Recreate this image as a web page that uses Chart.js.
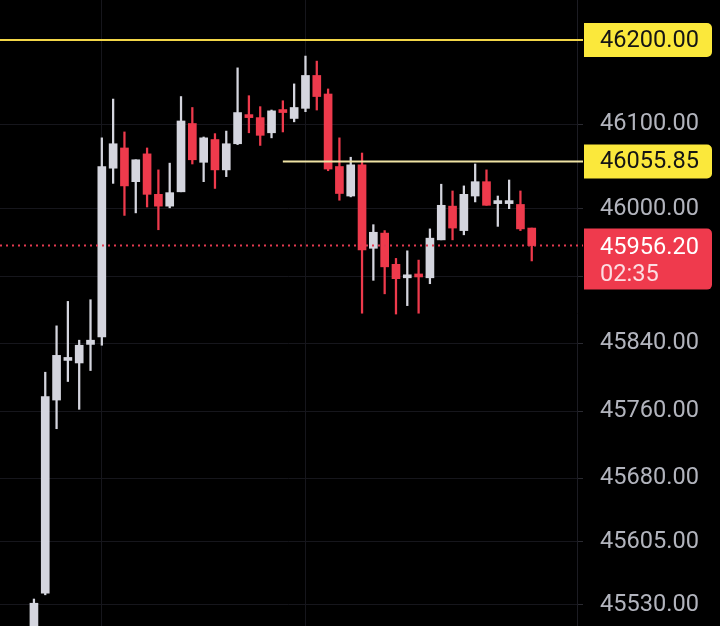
<!DOCTYPE html>
<html>
<head>
<meta charset="utf-8">
<script src="https://cdn.jsdelivr.net/npm/chart.js@4.4.1/dist/chart.umd.min.js"></script>
<style>
    html, body { margin: 0; padding: 0; background: #000; }
    #wrap { width: 720px; height: 626px; position: relative; }
</style>
</head>
<body>
<div id="wrap"><canvas id="priceChart"></canvas></div>
<script>
// ローソク足 (OHLC)
const opens  = [45490, 45544, 45773, 45820, 45817, 45839, 45848, 46048, 46072, 46032, 46065, 46017, 46003, 46020, 46101, 46055, 46082, 46046, 46077, 46110, 46108, 46090, 46116, 46107, 46119, 46158, 46136, 46050, 46015, 46052, 45953, 45971, 45934, 45918, 45921, 45918, 45963, 46003, 45974, 46015, 46032, 46006, 46006, 46005, 45977];
const highs  = [45537, 45806, 45861, 45890, 45844, 45892, 46084, 46130, 46091, 46058, 46072, 46046, 46054, 46133, 46120, 46085, 46089, 46092, 46167, 46134, 46121, 46117, 46128, 46148, 46181, 46175, 46142, 46084, 46061, 46066, 45981, 45974, 45941, 45950, 45939, 45976, 46029, 46021, 46027, 46053, 46046, 46015, 46034, 46021, 45977];
const lows   = [45485, 45542, 45739, 45795, 45762, 45808, 45838, 46030, 45992, 45995, 46002, 45975, 46001, 46020, 46053, 46032, 46024, 46038, 46076, 46090, 46075, 46084, 46091, 46103, 46115, 46117, 46045, 46010, 46014, 45876, 45915, 45899, 45875, 45885, 45876, 45911, 45963, 45963, 45969, 46008, 46004, 45979, 46000, 45974, 45938];
const closes = [45532, 45777, 45826, 45823, 45838, 45844, 46050, 46077, 46027, 46058, 46017, 46003, 46019, 46104, 46058, 46084, 46046, 46077, 46114, 46108, 46087, 46116, 46114, 46120, 46158, 46133, 46047, 46018, 46052, 45951, 45972, 45931, 45917, 45920, 45919, 45965, 46004, 45977, 46017, 46032, 46004, 46008, 46008, 45976, 45956.2];

// 価格軸
const tickValues = [46200, 46100, 46000, 45920, 45840, 45760, 45680, 45605, 45530];
const hiddenTicks = [45920];
const alertHigh = 46200;
const alertMid = 46055.85;
const lastPrice = 45956.20;
const countdown = '02:35';

// 左右の空きスロット
const leadSlots = 3;
const tailSlots = 4;
const timeGridCandles = [6, 24];
const midLineFromCandle = 22;

const upColor = '#d4d5de';
const downColor = '#ee3a4c';

document.addEventListener('DOMContentLoaded', function() {

    const total = leadSlots + opens.length + tailSlots;
    const labels = Array.from({ length: total }, () => '');
    const pad = (arr) => Array(leadSlots).fill(null).concat(arr, Array(tailSlots).fill(null));

    const bodies = pad(opens.map((o, i) => [o, closes[i]]));
    const wicks = pad(lows.map((l, i) => [l, highs[i]]));
    const colors = pad(opens.map((o, i) => closes[i] >= o ? upColor : downColor));
    const timeGrid = timeGridCandles.map(c => c + leadSlots);

    const font = { family: 'Roboto', size: 23.6 };

    // 価格ライン・ラベル
    const priceLines = {
        id: 'priceLines',
        afterDatasetsDraw(chart) {
            const ctx = chart.ctx;
            const y = chart.scales.y;
            const x = chart.scales.x;
            const right = chart.chartArea.right + 6;
            ctx.save();
            ctx.lineWidth = 2;
            ctx.strokeStyle = '#f3d648';
            ctx.beginPath();
            ctx.moveTo(0, y.getPixelForValue(alertHigh));
            ctx.lineTo(right, y.getPixelForValue(alertHigh));
            ctx.stroke();

            ctx.strokeStyle = '#efe3a4';
            ctx.beginPath();
            ctx.moveTo(x.getPixelForValue(midLineFromCandle + leadSlots), y.getPixelForValue(alertMid));
            ctx.lineTo(right, y.getPixelForValue(alertMid));
            ctx.stroke();

            ctx.strokeStyle = '#e23a50';
            ctx.setLineDash([2, 4]);
            ctx.beginPath();
            ctx.moveTo(0, y.getPixelForValue(lastPrice));
            ctx.lineTo(right, y.getPixelForValue(lastPrice));
            ctx.stroke();
            ctx.restore();
        },
        afterDraw(chart) {
            const ctx = chart.ctx;
            const y = chart.scales.y;
            const bx = chart.chartArea.right + 7;
            const bw = 128;
            ctx.save();
            ctx.font = font.size + 'px ' + font.family;
            ctx.textBaseline = 'middle';
            ctx.textAlign = 'left';

            [alertHigh, alertMid].forEach(v => {
                const py = y.getPixelForValue(v);
                ctx.fillStyle = '#fbe83b';
                ctx.beginPath();
                ctx.roundRect(bx, py - 17, bw, 34, [0, 5, 5, 0]);
                ctx.fill();
                ctx.fillStyle = '#141414';
                ctx.fillText(v.toFixed(2), 600, py + 1);
            });

            const ly = y.getPixelForValue(lastPrice);
            ctx.fillStyle = '#ef3a4d';
            ctx.beginPath();
            ctx.roundRect(bx, ly - 17, bw, 61, [0, 5, 5, 0]);
            ctx.fill();
            ctx.fillStyle = '#ffffff';
            ctx.fillText(lastPrice.toFixed(2), 600, ly + 2);
            ctx.fillStyle = '#fcdde2';
            ctx.fillText(countdown, 600, ly + 29);
            ctx.restore();
        }
    };

    const ctx = document.getElementById('priceChart').getContext('2d');
    new Chart(ctx, {
        type: 'bar',
        data: {
            labels: labels,
            datasets: [
                {
                    label: 'body',
                    data: bodies,
                    backgroundColor: colors,
                    barThickness: 8,
                    minBarLength: 3,
                    grouped: false,
                    order: 1
                },
                {
                    label: 'wick',
                    data: wicks,
                    backgroundColor: colors,
                    barThickness: 1.6,
                    grouped: false,
                    order: 2
                }
            ]
        },
        options: {
            responsive: true,
            maintainAspectRatio: false,
            animation: false,
            layout: { padding: 0 },
            plugins: {
                legend: { display: false },
                tooltip: { enabled: false }
            },
            scales: {
                x: {
                    offset: false,
                    ticks: { display: false, autoSkip: false },
                    grid: {
                        offset: false,
                        drawTicks: false,
                        color: function(c) {
                            return timeGrid.includes(c.index) ? '#16161c' : 'rgba(0,0,0,0)';
                        }
                    },
                    border: { display: false },
                    afterFit: function(scale) {
                        scale.height = 0;
                        scale.paddingLeft = 0;
                        scale.paddingRight = 0;
                    }
                },
                y: {
                    position: 'right',
                    min: 45505,
                    max: 46247.5,
                    afterBuildTicks: function(scale) {
                        scale.ticks = tickValues.map(v => ({ value: v }));
                    },
                    afterFit: function(scale) {
                        scale.width = 143;
                        scale.paddingTop = 0;
                        scale.paddingBottom = 0;
                    },
                    grid: { color: '#16161c', tickLength: 6, tickColor: '#2a2a31' },
                    border: { display: true, color: '#1c1c23' },
                    ticks: {
                        color: '#b2b4bd',
                        font: font,
                        padding: 17,
                        autoSkip: false,
                        callback: function(value) {
                            return hiddenTicks.includes(value) ? '' : Number(value).toFixed(2);
                        }
                    }
                }
            }
        },
        plugins: [priceLines]
    });
});
</script>
</body>
</html>
